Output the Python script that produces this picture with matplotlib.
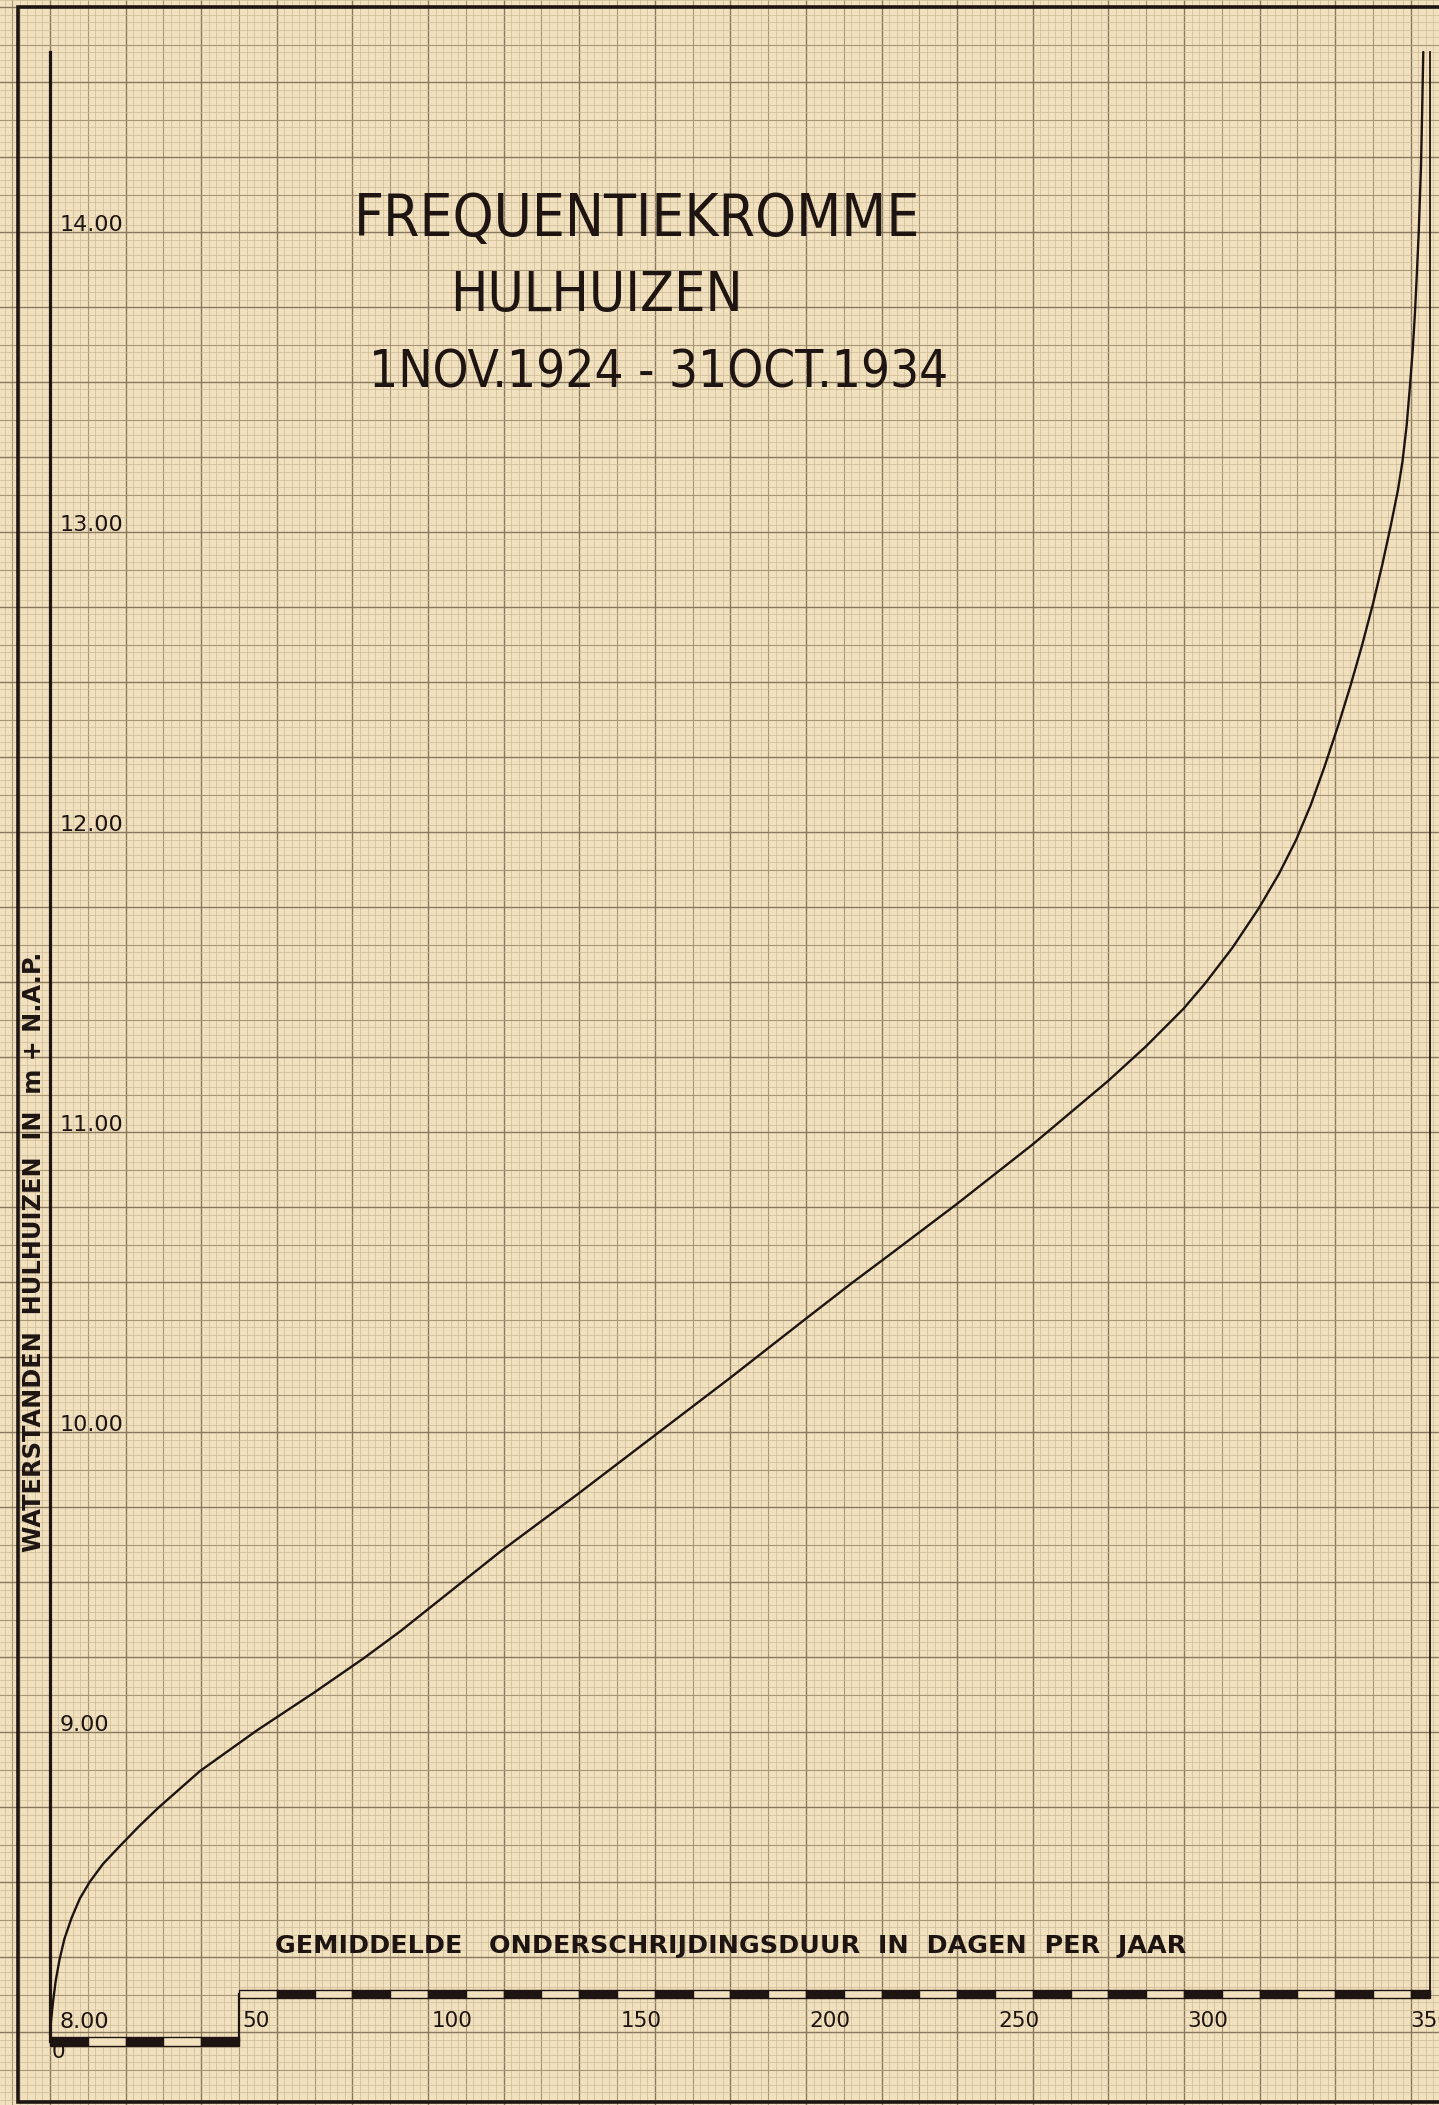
import numpy as np
import matplotlib.pyplot as plt
from matplotlib import font_manager as fm

dagen = [0, 0.3, 0.8, 1.5, 2.5, 3.8, 5.7, 7.9, 10.5, 14.0, 18.5, 23.5, 28.7, 39.7, 54.7,
         69.7, 82.9, 92.6, 119.0, 139.3, 159.6, 179.9, 200.2, 212.5, 223.1, 239.9, 260.1,
         279.9, 289.9, 299.8, 305.5, 312.8, 319.8, 325.1, 329.6, 333.5, 337.1, 341.0, 344.1,
         347.1, 350.0, 352.4, 354.7, 356.6, 357.8, 358.9, 359.7, 360.5, 361.1, 361.6, 362.1,
         362.7, 363.0, 363.3]
waterstand = [7.99, 8.04, 8.10, 8.17, 8.24, 8.31, 8.38, 8.445, 8.50, 8.56, 8.62, 8.685, 8.748,
              8.87, 9.005, 9.13, 9.245, 9.335, 9.60, 9.79, 9.985, 10.18, 10.38, 10.50, 10.60,
              10.76, 10.96, 11.17, 11.285, 11.41, 11.494, 11.614, 11.746, 11.86, 11.972, 12.089,
              12.215, 12.363, 12.49, 12.622, 12.761, 12.888, 13.021, 13.14, 13.235, 13.355,
              13.475, 13.605, 13.73, 13.86, 14.00, 14.22, 14.40, 14.60]

y_ticks = [8.0, 9.0, 10.0, 11.0, 12.0, 13.0, 14.0]
x_ticks = [50, 100, 150, 200, 250, 300, 350]
jaar = 365

titel = ["FREQUENTIEKROMME", "HULHUIZEN", "1NOV.1924 - 31OCT.1934"]
x_titel = "GEMIDDELDE   ONDERSCHR\u0132DINGSDUUR  IN  DAGEN  PER  JAAR"
y_titel = "WATERSTANDEN  HULHUIZEN  IN  m + N.A.P."

PAPER = "#f2e1bf"
INK = "#1e1512"

# schaal van het millimeterpapier (pixels)
W, H = 1439, 2105
X0, PX_DAG = 50, 3.78
Y8, PX_M = 2032, 300.0


def smalle_letter():
    """zoek een smalle (condensed) letter voor de titel, anders DejaVu Sans"""
    fonts = fm.fontManager.ttflist
    for f in fonts:
        if f.name == "Liberation Sans Narrow" and f.style == "normal" and f.weight in (400, "normal"):
            return fm.FontProperties(fname=f.fname)
    for gewicht in (("500", "medium"), ("400", "normal", "regular")):
        for fam in ["Noto Sans", "DejaVu Sans", "Open Sans", "Roboto"]:
            for f in fonts:
                if f.name == fam and f.style == "normal" and "condensed" in str(f.stretch) \
                        and "extra" not in str(f.stretch) and str(f.weight) in gewicht:
                    return fm.FontProperties(fname=f.fname)
    return fm.FontProperties(family="DejaVu Sans")


def pas_breedte(t, doel, renderer):
    """schaal de lettergrootte zodat de tekst de gewenste breedte (px) krijgt"""
    bb = t.get_window_extent(renderer)
    lengte = bb.height if t.get_rotation() == 90 else bb.width
    t.set_fontsize(t.get_fontsize() * doel / lengte)


fig = plt.figure(figsize=(W / 100, H / 100), dpi=100)
fig.patch.set_facecolor(PAPER)
ax = fig.add_axes([0, 0, 1, 1])
ax.set_facecolor(PAPER)
xmin, xmax = -X0 / PX_DAG, (W - X0) / PX_DAG
ymin, ymax = 8 - (H - Y8) / PX_M, 8 + Y8 / PX_M
ax.set_xlim(xmin, xmax)
ax.set_ylim(ymin, ymax)
ax.axis("off")

# millimeterpapier: mm, halve cm en cm lijnen
for i in range(int(xmin // 2) - 1, int(xmax // 2) + 2):
    if i % 10 == 0:
        c, lw = "#8a795d", 1.0
    elif i % 5 == 0:
        c, lw = "#a89676", 0.8
    else:
        c, lw = "#cdbb97", 0.5
    ax.axvline(i * 2, color=c, lw=lw, zorder=0)
for i in range(int((ymin - 8) / 0.025) - 1, int((ymax - 8) / 0.025) + 2):
    if i % 10 == 0:
        c, lw = "#8a795d", 1.0
    elif i % 5 == 0:
        c, lw = "#a89676", 0.8
    else:
        c, lw = "#cdbb97", 0.5
    ax.axhline(8 + i * 0.025, color=c, lw=lw, zorder=0)

# kader en assen
ax.plot([xmax + 5, -8.5, -8.5, xmax + 5], [14.75, 14.75, 7.767, 7.767],
        color=INK, lw=2.6, solid_joinstyle="miter", zorder=3)
ax.plot([0, 0], [7.97, 14.6], color=INK, lw=2.3, zorder=3)
ax.plot([jaar, jaar], [8.127, 14.6], color=INK, lw=1.3, zorder=3)
ax.plot([50, 50], [7.97, 8.127], color=INK, lw=1.6, zorder=3)

# geblokte schaalbalk
lo = np.arange(0, 50, 10)
ax.bar(lo, 0.03, width=10, bottom=7.955, align="edge",
       color=[INK if (s // 10) % 2 == 0 else PAPER for s in lo],
       edgecolor=INK, linewidth=1.0, zorder=4)
hi = np.arange(50, jaar, 10)
ax.bar(hi, 0.025, width=np.minimum(10, jaar - hi), bottom=8.115, align="edge",
       color=[INK if (s // 10) % 2 == 0 else PAPER for s in hi],
       edgecolor=INK, linewidth=1.0, zorder=4)

# de kromme
ax.plot(dagen, waterstand, color=INK, lw=1.7, solid_capstyle="round",
        solid_joinstyle="round", zorder=5)

# schaalwaarden
for v in y_ticks:
    ax.text(2.6, v + (0.035 if v == 8.0 else 0.022), f"{v:.2f}", ha="left", va="center",
            fontsize=16, color=INK, zorder=6)
for v in x_ticks:
    dx = 10 if v == x_ticks[-1] else 1
    ax.text(v + dx, 8.037, f"{v}", ha="left", va="center", fontsize=15.5, color=INK, zorder=6)
ax.text(0.3, 7.933, "0", ha="left", va="center", fontsize=15.5, color=INK, zorder=6)

# titels
fp = smalle_letter()
renderer = fig.canvas.get_renderer()
teksten = []
for regel, x, y, breedte in zip(titel, [80.4, 105.8, 84.4], [13.987, 13.737, 13.483], [566, 292, 578]):
    t = ax.text(x, y, regel, ha="left", va="baseline", fontproperties=fp, fontsize=46, color=INK)
    teksten.append((t, breedte))

t = ax.text(59.5, 8.263, x_titel, ha="left", va="baseline", fontsize=17, fontweight="bold", color=INK)
teksten.append((t, 909))
t = ax.text(-4.3, 10.6, y_titel, ha="center", va="center", rotation=90, fontsize=16,
            fontweight="bold", color=INK)
teksten.append((t, 597))

for t, breedte in teksten:
    pas_breedte(t, breedte, renderer)

fig.savefig("out.png", dpi=100, facecolor=PAPER)
